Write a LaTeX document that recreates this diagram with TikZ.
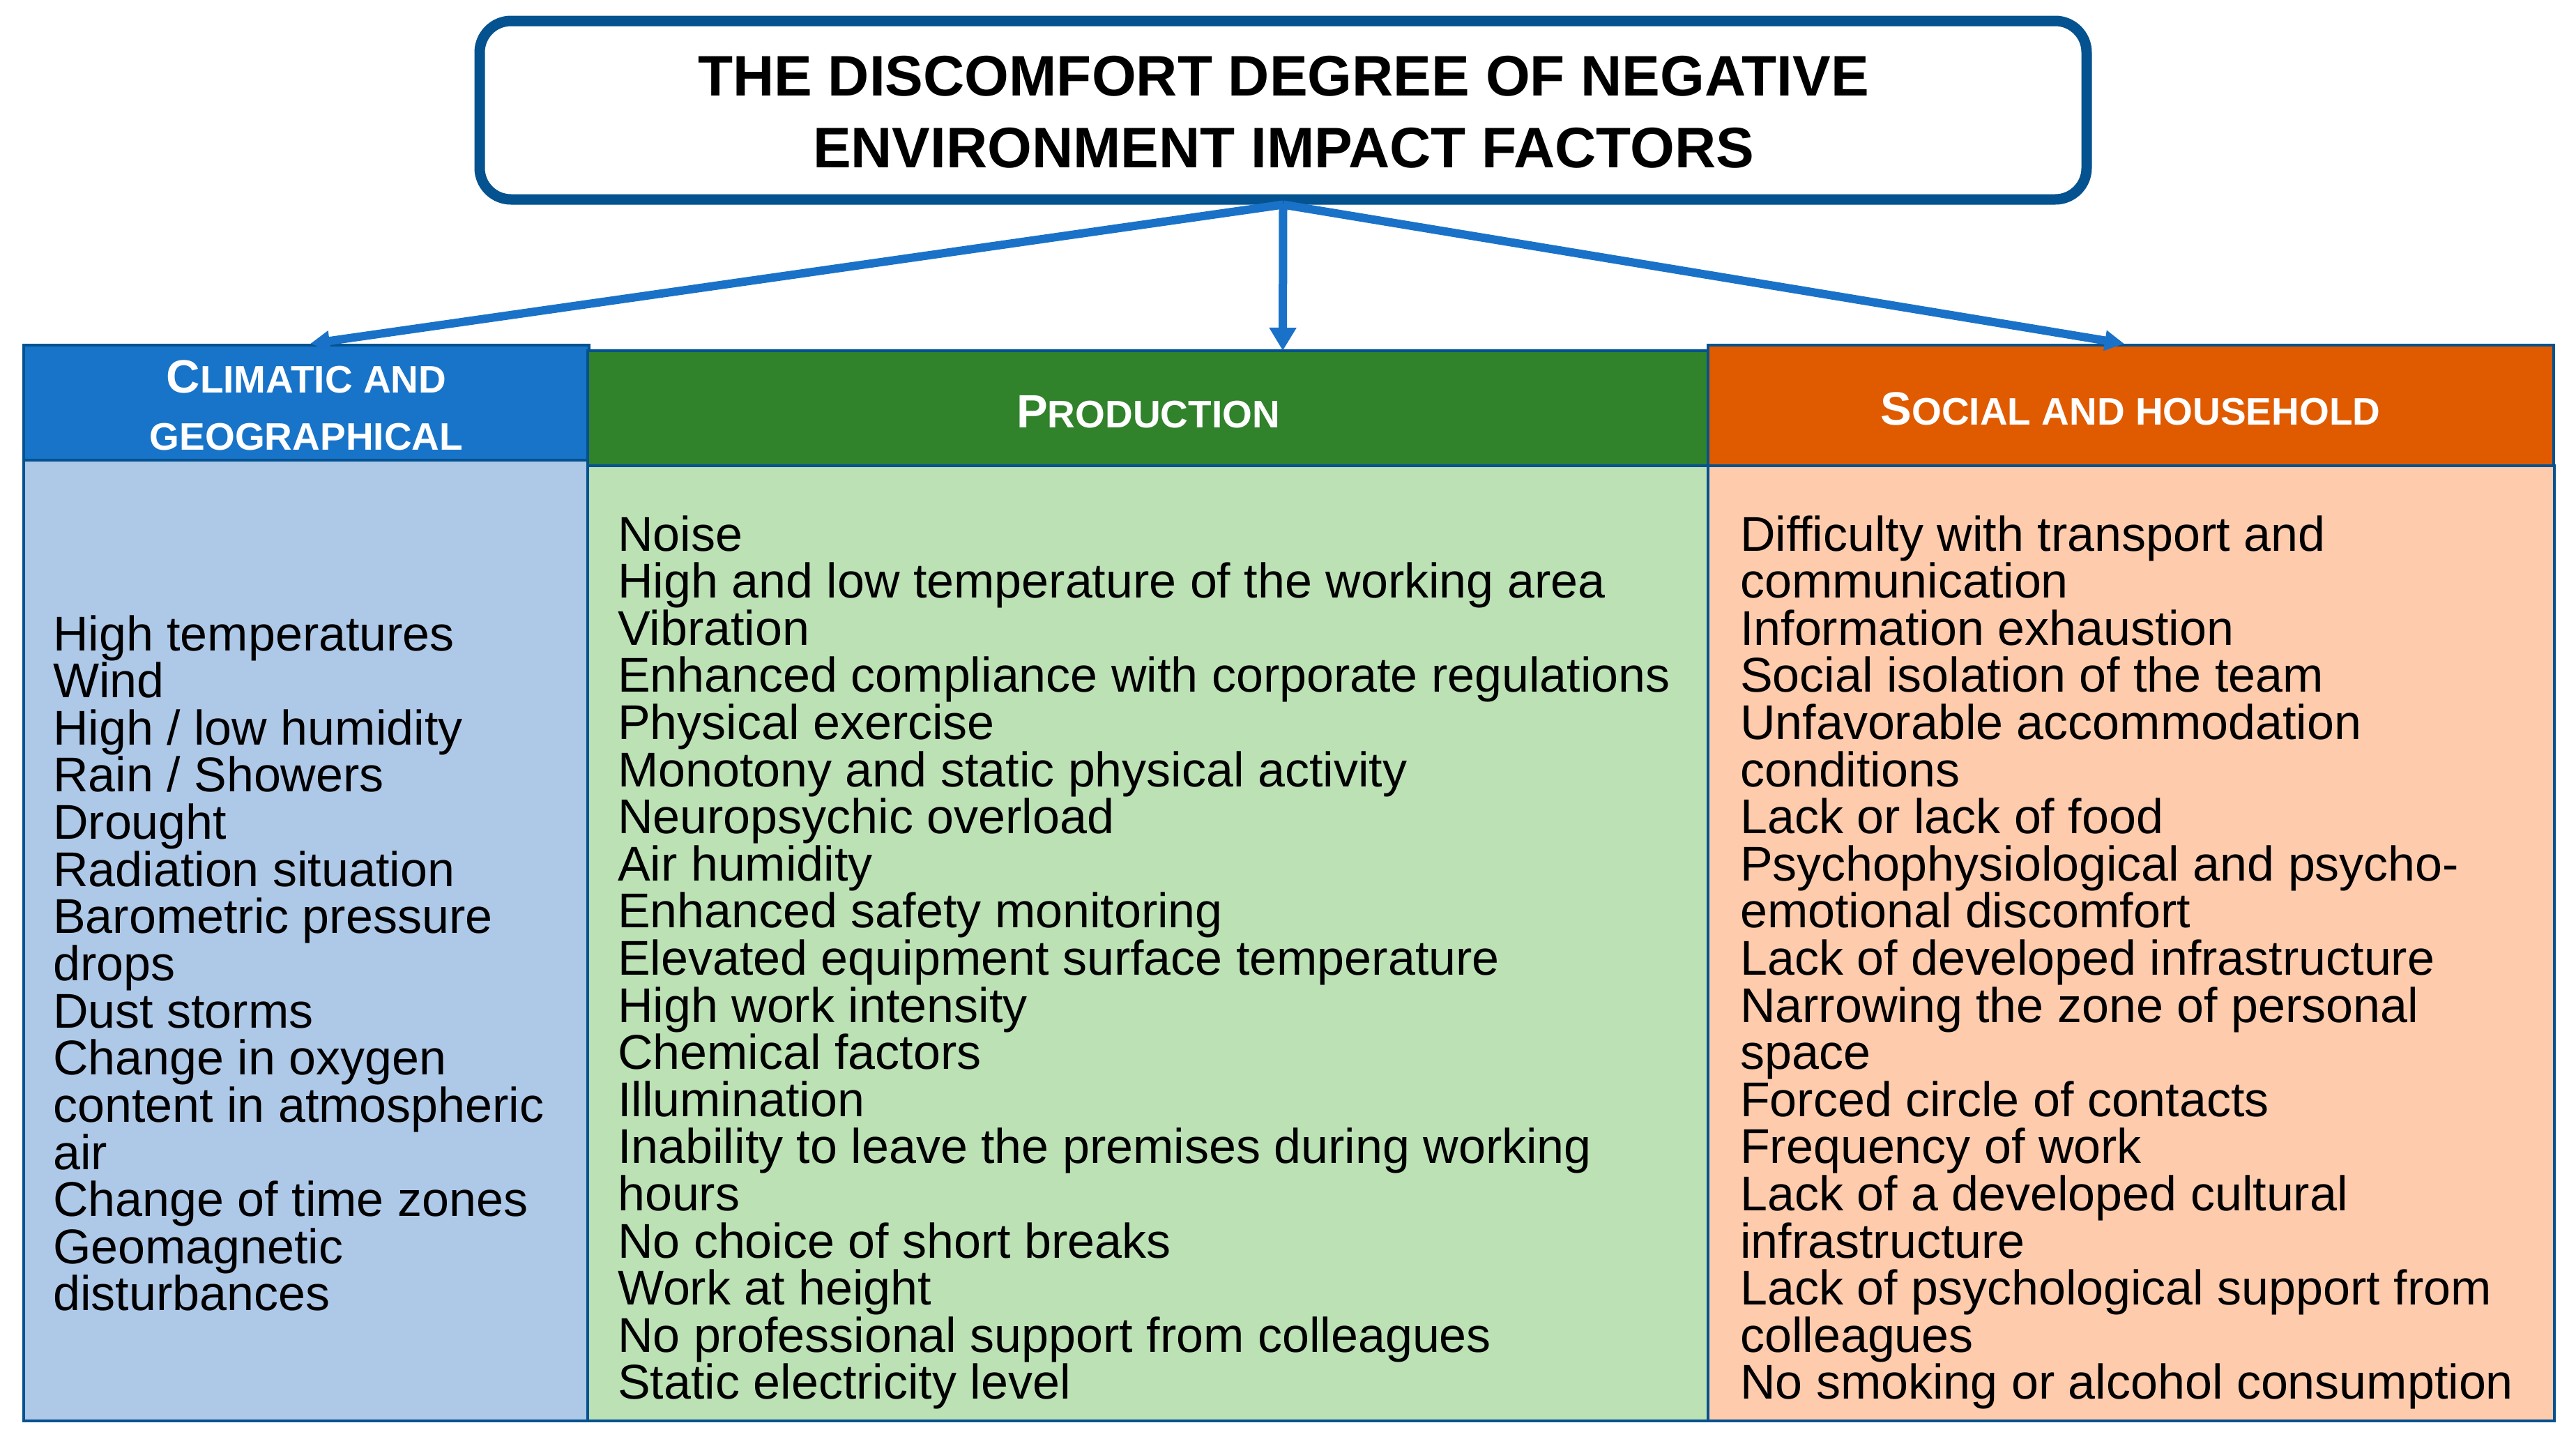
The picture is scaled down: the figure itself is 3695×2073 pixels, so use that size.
\documentclass[tikz,border=0pt]{standalone}
\usepackage{fontspec}
\setmainfont{Liberation Sans}
\usetikzlibrary{arrows.meta}
\definecolor{bord}{HTML}{04528F}
\definecolor{arr}{HTML}{1A72C8}
\definecolor{hblue}{HTML}{1874C8}
\definecolor{hgreen}{HTML}{30822B}
\definecolor{horange}{HTML}{E05A00}
\definecolor{bblue}{HTML}{AEC8E8}
\definecolor{bgreen}{HTML}{BBE1B5}
\definecolor{borange}{HTML}{FECBAD}
\newcommand{\smc}[1]{{\fontsize{55}{55}\selectfont #1}}
\begin{document}
\begin{tikzpicture}[x=1pt,y=-1pt,
  bodybox/.style={draw=bord,line width=4pt,inner sep=0pt},
  headbox/.style={draw=bord,line width=4.5pt,inner sep=0pt},
  htext/.style={anchor=base,inner sep=0pt,text=white,font=\bfseries\fontsize{67}{67}\selectfont},
  ttext/.style={anchor=base,inner sep=0pt,text=black,font=\bfseries\fontsize{82}{82}\selectfont},
  item/.style={anchor=base west,inner sep=0pt,font=\fontsize{70}{70}\selectfont,text=black},
  conn/.style={draw=arr,line width=12pt,-{Triangle[length=28pt,width=28pt]}}
]
\useasboundingbox (0,0) rectangle (3695,2073);
% title
\node[draw=bord,line width=15pt,rounded corners=45pt,minimum width=2305pt,minimum height=256pt,inner sep=0pt,fill=white] (title) at (1840.5,158) {};
\node[ttext] (t1) at (1841,137) {THE DISCOMFORT DEGREE OF NEGATIVE};
\node[ttext] (t2) at (1841,240) {ENVIRONMENT IMPACT FACTORS};
% bodies
\node[bodybox,fill=bblue,minimum width=811pt,minimum height=1378pt] (bl) at (439.5,1349) {};
\node[bodybox,fill=bgreen,minimum width=1608pt,minimum height=1370pt] (bm) at (1647,1353) {};
\node[bodybox,fill=borange,minimum width=1214pt,minimum height=1370pt] (br) at (3057,1353) {};
% headers
\node[headbox,fill=hblue,minimum width=811pt,minimum height=165pt] (hl) at (439.5,577.5) {};
\node[headbox,fill=hgreen,minimum width=1608pt,minimum height=165pt] (hm) at (1647,585.5) {};
\node[headbox,fill=horange,minimum width=1213pt,minimum height=173pt] (hr) at (3056.5,581.5) {};
\node[htext] (hl1) at (439.5,563) {C\smc{LIMATIC AND}};
\node[htext] (hl2) at (439.5,645) {\smc{GEOGRAPHICAL}};
\node[htext] (hm1) at (1647,613) {P\smc{RODUCTION}};
\node[htext] (hr1) at (3056,609) {S\smc{OCIAL AND HOUSEHOLD}};
% items
\foreach \t [count=\i] in {High temperatures,Wind,High / low humidity,Rain / Showers,Drought,Radiation situation,Barometric pressure,drops,Dust storms,Change in oxygen,content in atmospheric,air,Change of time zones,Geomagnetic,disturbances}
  \node[item] (l\i) at (76,{933+67.64*(\i-1)}) {\t};
\foreach \t [count=\i] in {Noise,High and low temperature of the working area,Vibration,Enhanced compliance with corporate regulations,Physical exercise,Monotony and static physical activity,Neuropsychic overload,Air humidity,Enhanced safety monitoring,Elevated equipment surface temperature,High work intensity,Chemical factors,Illumination,Inability to leave the premises during working,hours,No choice of short breaks,Work at height,No professional support from colleagues,Static electricity level}
  \node[item] (m\i) at (886,{790+67.6*(\i-1)}) {\t};
\foreach \t [count=\i] in {Difficulty with transport and,communication,Information exhaustion,Social isolation of the team,Unfavorable accommodation,conditions,Lack or lack of food,Psychophysiological and psycho-,emotional discomfort,Lack of developed infrastructure,Narrowing the zone of personal,space,Forced circle of contacts,Frequency of work,Lack of a developed cultural,infrastructure,Lack of psychological support from,colleagues,No smoking or alcohol consumption}
  \node[item] (r\i) at (2496,{790+67.6*(\i-1)}) {\t};
% connectors
\coordinate (lt) at (445,493);
\coordinate (mt) at (1840,503);
\coordinate (rt) at (3047,493);
\draw[conn] (title.south) -- (lt);
\draw[conn] (title.south) -- (rt);
\draw[conn,line width=12pt,-{Triangle[length=33pt,width=37pt]}] (title.south) -- (mt);
\end{tikzpicture}
\end{document}
